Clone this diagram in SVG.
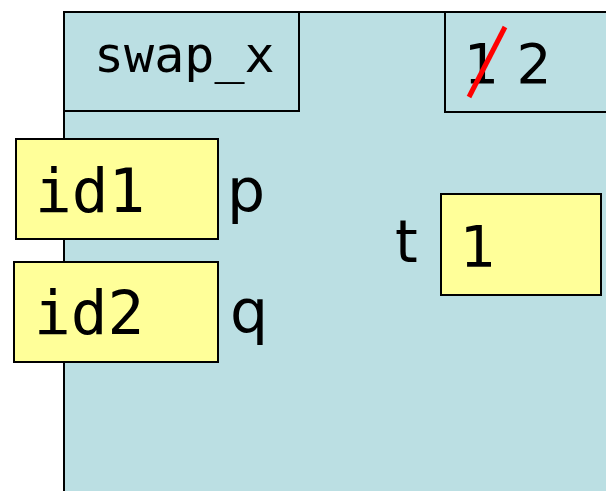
<svg xmlns="http://www.w3.org/2000/svg" width="606" height="491" viewBox="0 0 606 491">
<style>
.frame{fill:#bbdfe3;stroke:#000;stroke-width:2}
.cell{fill:#ffff99;stroke:#000;stroke-width:2}
.mono{font-family:"DejaVu Sans Mono","Liberation Mono",monospace;fill:#000}
.sans{font-family:"DejaVu Sans","Liberation Sans",sans-serif;fill:#000}
</style>
<rect width="606" height="491" fill="#fff"/>
<g id="frame">
<rect class="frame" x="64" y="12" width="560" height="500"/>
</g>
<g id="name">
<rect class="frame" x="64" y="12" width="235" height="99"/>
<text class="mono" x="94" y="72" font-size="50">swap_x</text>
</g>
<g id="counter">
<rect class="frame" x="445" y="12" width="180" height="100"/>
<text class="sans" x="464" y="83" font-size="55">1 2</text>
<line x1="469" y1="97" x2="505" y2="27" stroke="#ff0000" stroke-width="5"/>
</g>
<g id="p">
<rect class="cell" x="16" y="139" width="202" height="100"/>
<text class="mono" x="35" y="212" font-size="61">id1</text>
<text class="sans" x="227" y="211" font-size="60">p</text>
</g>
<g id="q">
<rect class="cell" x="14" y="262" width="204" height="100"/>
<text class="mono" x="34" y="334" font-size="61">id2</text>
<text class="sans" x="230" y="332" font-size="60">q</text>
</g>
<g id="t">
<rect class="cell" x="441" y="194" width="160" height="101"/>
<text class="sans" x="460" y="267" font-size="57">1</text>
<text class="sans" x="395" y="262" font-size="58">t</text>
</g>
<g id="connectors"></g>
</svg>
